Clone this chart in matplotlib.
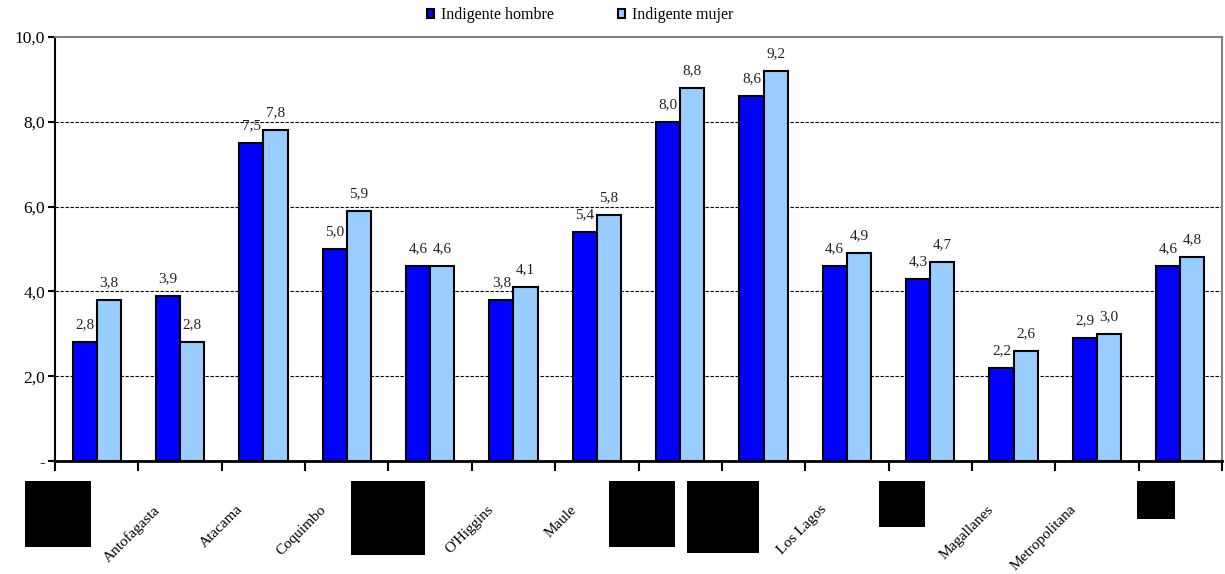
import numpy as np
import matplotlib
matplotlib.use('Agg')
import matplotlib.pyplot as plt
from matplotlib.patches import Patch, Rectangle
import matplotlib.transforms as mtransforms

plt.rcParams['font.family'] = ['Liberation Serif', 'DejaVu Serif']

# datos (los rótulos tapados quedan vacíos)
regiones = ['', 'Antofagasta', 'Atacama', 'Coquimbo', '', "O'Higgins", 'Maule',
            '', '', 'Los Lagos', '', 'Magallanes', 'Metropolitana', '']
hombre = [2.8, 3.9, 7.5, 5.0, 4.6, 3.8, 5.4, 8.0, 8.6, 4.6, 4.3, 2.2, 2.9, 4.6]
mujer = [3.8, 2.8, 7.8, 5.9, 4.6, 4.1, 5.8, 8.8, 9.2, 4.9, 4.7, 2.6, 3.0, 4.8]
series = ['Indigente hombre', 'Indigente mujer']
colores = ['#0000FF', '#99CCFF']

W, H = 1225, 574
fig = plt.figure(figsize=(W / 100, H / 100), dpi=100)
ax = fig.add_axes([55 / W, (H - 461) / H, (1222 - 55) / W, (461 - 37) / H])

x = np.arange(len(regiones))
ancho = 0.29
b1 = ax.bar(x - ancho / 2, hombre, ancho, color=colores[0], edgecolor='black', linewidth=1.5, zorder=3)
b2 = ax.bar(x + ancho / 2, mujer, ancho, color=colores[1], edgecolor='black', linewidth=1.5, zorder=3)

for barras in (b1, b2):
    for rect in barras:
        h = rect.get_height()
        ax.annotate(('%.1f' % h).replace('.', ','), (rect.get_x() + rect.get_width() / 2, h),
                    xytext=(0, 10), textcoords='offset points', ha='center', va='baseline',
                    fontsize=11, color='#222222')

ax.set_xlim(-0.5, len(regiones) - 0.5)
ax.set_ylim(0, 10)
yt = [0, 2, 4, 6, 8, 10]
ax.set_yticks(yt)
ax.set_yticklabels(['-'] + [('%.1f' % v).replace('.', ',') for v in yt[1:]], fontsize=12.5)
for v in yt[1:-1]:
    ax.axhline(v, color='black', lw=0.8, ls=(0, (3, 1.5)), zorder=1)

# marcas en los limites de categoria, rótulos en el centro
ax.set_xticks(np.arange(-0.5, len(regiones)), minor=True)
ax.set_xticks(x)
ax.set_xticklabels(regiones, rotation=45, ha='right', va='top', rotation_mode='anchor', fontsize=11)
ax.tick_params(axis='x', which='major', length=0, pad=0)
ax.tick_params(axis='x', which='minor', length=7, width=1.5, direction='out')
ax.tick_params(axis='y', length=5, width=1.5, direction='out', pad=2)
desplaza = mtransforms.ScaledTranslation(-27 / 100, -42 / 100, fig.dpi_scale_trans)
for lab in ax.get_xticklabels():
    lab.set_transform(lab.get_transform() + desplaza)

ax.spines['left'].set_linewidth(1.5)
ax.spines['bottom'].set_linewidth(2)
for s in ('top', 'right'):
    ax.spines[s].set_color('#808080')
    ax.spines[s].set_linewidth(1.5)

manejadores = [Patch(facecolor=c, edgecolor='black', linewidth=1.5) for c in colores]
fig.legend(manejadores, series, loc='center', bbox_to_anchor=(580 / W, 1 - 15 / H), ncol=2,
           frameon=False, fontsize=11.5, handlelength=0.45, handleheight=0.45,
           handletextpad=0.45, columnspacing=4.0)

# recuadros negros que tapan algunos rótulos
cajas = [(25, 481, 91, 547), (351, 481, 425, 555), (609, 481, 675, 547),
         (687, 481, 759, 553), (879, 481, 925, 527), (1137, 481, 1175, 519)]
for x0, y0, x1, y1 in cajas:
    fig.add_artist(Rectangle((x0 / W, 1 - y1 / H), (x1 - x0) / W, (y1 - y0) / H,
                             transform=fig.transFigure, facecolor='black', edgecolor='none'))

plt.savefig('out.png', dpi=100)
